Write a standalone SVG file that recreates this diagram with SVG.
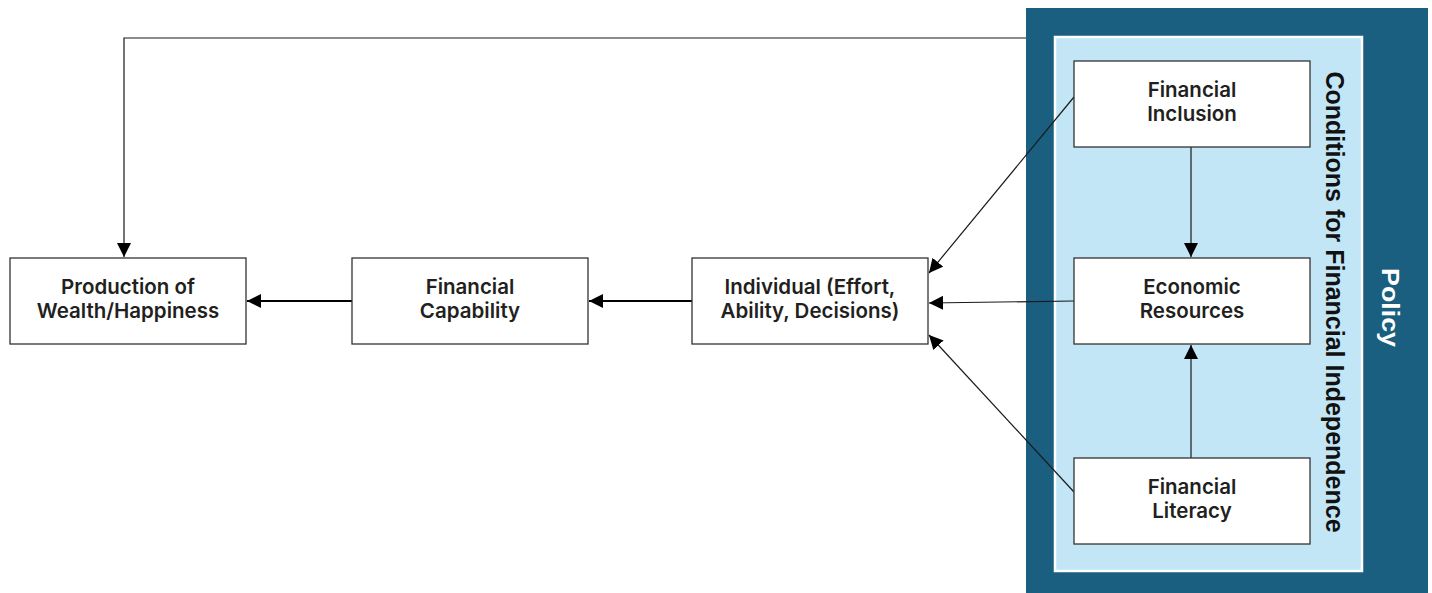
<svg xmlns="http://www.w3.org/2000/svg" width="1432" height="593" viewBox="0 0 1432 593">
  <style>
    .box { fill: #ffffff; stroke: #333333; stroke-width: 1.3; }
    .lbl { font-family: Inter, "Open Sans", sans-serif; font-weight: 600; font-size: 20.5px; fill: #231f20; text-anchor: middle; }
    .thin { stroke: #1a1a1a; stroke-width: 1.2; fill: none; }
    .thick { stroke: #000000; stroke-width: 2.2; fill: none; }
  </style>
  <defs>
    <marker id="ah" markerUnits="userSpaceOnUse" markerWidth="14" markerHeight="14" viewBox="0 0 14 14" refX="14" refY="7" orient="auto">
      <path d="M0,0 L14,7 L0,14 Z" fill="#000"/>
    </marker>
  </defs>
  <rect width="1432" height="593" fill="#ffffff"/>

  <g id="policy">
    <rect x="1026" y="8" width="402" height="585" fill="#1a5f80"/>
    <text transform="translate(1382,307.5) rotate(90)" font-family="'Liberation Sans', Arial, sans-serif" font-weight="700" font-size="24" fill="#ffffff" text-anchor="middle" textLength="79" lengthAdjust="spacingAndGlyphs">Policy</text>
  </g>

  <g id="conditions">
    <rect x="1055" y="37" width="307" height="534" fill="#c2e6f5" stroke="#ffffff" stroke-width="2.5"/>
    <text transform="translate(1325.5,302) rotate(90)" font-family="'Liberation Sans', Arial, sans-serif" font-weight="700" font-size="25" fill="#111111" text-anchor="middle">Conditions for Financial Independence</text>
  </g>

  <g id="connectors">
    <polyline class="thin" points="1026,38 124,38 124,257" marker-end="url(#ah)"/>
    <line class="thick" x1="352" y1="301" x2="247" y2="301" marker-end="url(#ah)"/>
    <line class="thick" x1="692" y1="301" x2="589" y2="301" marker-end="url(#ah)"/>
    <line class="thin" x1="1074" y1="301" x2="929" y2="303" marker-end="url(#ah)"/>
    <line class="thin" x1="1074" y1="97" x2="929" y2="273" marker-end="url(#ah)"/>
    <line class="thin" x1="1074" y1="492" x2="929" y2="335" marker-end="url(#ah)"/>
    <line class="thin" x1="1191" y1="147" x2="1191" y2="257" marker-end="url(#ah)"/>
    <line class="thin" x1="1191" y1="458" x2="1191" y2="345" marker-end="url(#ah)"/>
  </g>

  <g id="production">
    <rect class="box" x="10" y="258" width="236" height="86"/>
    <text class="lbl" x="128" y="294">Production of</text>
    <text class="lbl" x="128" y="318">Wealth/Happiness</text>
  </g>
  <g id="capability">
    <rect class="box" x="352" y="258" width="236" height="86"/>
    <text class="lbl" x="470" y="294">Financial</text>
    <text class="lbl" x="470" y="318">Capability</text>
  </g>
  <g id="individual">
    <rect class="box" x="692" y="258" width="236" height="86"/>
    <text class="lbl" x="810" y="294">Individual (Effort,</text>
    <text class="lbl" x="810" y="318">Ability, Decisions)</text>
  </g>
  <g id="inclusion">
    <rect class="box" x="1074" y="61" width="236" height="86"/>
    <text class="lbl" x="1192" y="97">Financial</text>
    <text class="lbl" x="1192" y="121">Inclusion</text>
  </g>
  <g id="resources">
    <rect class="box" x="1074" y="258" width="236" height="86"/>
    <text class="lbl" x="1192" y="294">Economic</text>
    <text class="lbl" x="1192" y="318">Resources</text>
  </g>
  <g id="literacy">
    <rect class="box" x="1074" y="458" width="236" height="86"/>
    <text class="lbl" x="1192" y="494">Financial</text>
    <text class="lbl" x="1192" y="518">Literacy</text>
  </g>
</svg>
